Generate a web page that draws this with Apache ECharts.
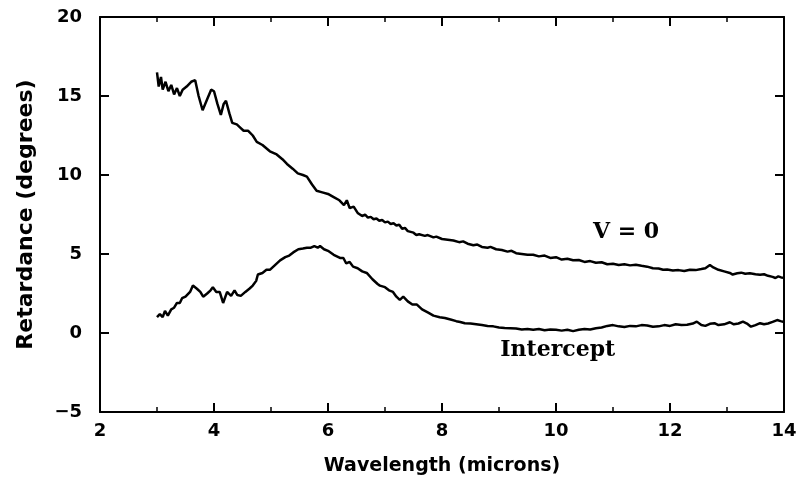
<!DOCTYPE html>
<html>
<head>
<meta charset="utf-8">
<script src="https://cdn.jsdelivr.net/npm/echarts@6/dist/echarts.min.js"></script>
<style>
  html, body { margin: 0; padding: 0; background: #fff; }
  #chart { width: 800px; height: 483px; }
</style>
</head>
<body>
<div id="chart"></div>
<script>
// Retardance vs wavelength, two measured traces
const xTicks = [2, 4, 6, 8, 10, 12, 14];
const xMinorTicks = [3, 5, 7, 9, 11, 13];
const yTicks = [-5, 0, 5, 10, 15, 20];

const v0Wavelength = [
  3.00, 3.03, 3.07, 3.10, 3.15, 3.20, 3.25, 3.30, 3.35, 3.40, 3.45, 3.52, 3.60, 3.67,
  3.73, 3.80, 3.88, 3.95, 4.00, 4.06, 4.12, 4.17, 4.21, 4.27, 4.32, 4.40, 4.46, 4.52,
  4.60, 4.68, 4.75, 4.85, 4.98, 5.10, 5.20, 5.28, 5.38, 5.47, 5.56, 5.63, 5.72, 5.80,
  5.90, 6.00, 6.10, 6.20, 6.28, 6.33, 6.38, 6.45, 6.52,
  6.60, 6.65, 6.70, 6.75, 6.80, 6.85, 6.90, 6.95, 7.00, 7.05, 7.10, 7.15, 7.20, 7.25,
  7.30, 7.35, 7.40, 7.50, 7.55, 7.60, 7.70, 7.75, 7.85, 7.90, 8.00, 8.10, 8.20, 8.30,
  8.37, 8.45, 8.55, 8.62, 8.70, 8.80, 8.85, 8.95, 9.05, 9.15, 9.22, 9.30, 9.40, 9.50,
  9.60, 9.70, 9.80, 9.90, 10.00, 10.10, 10.20, 10.30, 10.40, 10.50, 10.60, 10.70, 10.80,
  10.90, 11.00, 11.10, 11.20, 11.30, 11.40, 11.50, 11.60, 11.70, 11.80, 11.88, 11.95,
  12.05, 12.15, 12.25, 12.35, 12.45, 12.55, 12.62, 12.70, 12.76, 12.85, 12.95, 13.05,
  13.10, 13.18, 13.25, 13.32, 13.40, 13.50, 13.58, 13.65, 13.72, 13.80, 13.85, 13.90,
  13.95, 14.00
];
const v0Retardance = [
  16.5, 15.6, 16.2, 15.4, 15.9, 15.3, 15.7, 15.1, 15.5, 15.0, 15.4, 15.6, 15.9, 16.0,
  15.0, 14.1, 14.8, 15.4, 15.3, 14.5, 13.8, 14.5, 14.7, 13.9, 13.3, 13.2, 13.0, 12.8,
  12.8, 12.5, 12.1, 11.9, 11.5, 11.3, 11.0, 10.7, 10.4, 10.1, 10.0, 9.9, 9.4, 9.0,
  8.9, 8.8, 8.6, 8.4, 8.1, 8.4, 7.9, 8.0, 7.6,
  7.4, 7.5, 7.3, 7.35, 7.2, 7.25, 7.1, 7.15, 7.0, 7.05, 6.9, 6.95, 6.8, 6.85,
  6.6, 6.65, 6.45, 6.35, 6.2, 6.25, 6.15, 6.2, 6.05, 6.1, 5.95, 5.9, 5.85, 5.75,
  5.8, 5.65, 5.55, 5.6, 5.45, 5.4, 5.45, 5.3, 5.25, 5.15, 5.2, 5.05, 5.0, 4.95,
  4.95, 4.85, 4.9, 4.75, 4.8, 4.65, 4.7, 4.6, 4.62, 4.5, 4.55, 4.45, 4.48,
  4.35, 4.38, 4.3, 4.35, 4.28, 4.32, 4.25, 4.2, 4.1, 4.08, 4.0, 4.02,
  3.95, 3.98, 3.92, 4.0, 3.98, 4.05, 4.1, 4.3, 4.15, 4.0, 3.9, 3.8,
  3.7, 3.78, 3.82, 3.75, 3.78, 3.72, 3.68, 3.72, 3.62, 3.55, 3.48, 3.58,
  3.52, 3.5
];

const interceptWavelength = [
  3.00, 3.05, 3.10, 3.14, 3.19, 3.25, 3.30, 3.35, 3.40, 3.44, 3.50, 3.58, 3.63, 3.70,
  3.76, 3.81, 3.88, 3.94, 3.98, 4.04, 4.10, 4.16, 4.23, 4.30, 4.36, 4.41, 4.47, 4.55,
  4.62, 4.68, 4.74, 4.77, 4.85, 4.92, 4.98, 5.07, 5.16, 5.25, 5.32, 5.39, 5.48, 5.56,
  5.63, 5.70, 5.76, 5.82, 5.86, 5.93, 6.00, 6.10, 6.21, 6.27, 6.32, 6.38, 6.44, 6.52,
  6.60, 6.68, 6.78, 6.87, 6.91, 7.00, 7.07, 7.14, 7.20, 7.26, 7.32, 7.40, 7.48, 7.56,
  7.65, 7.75, 7.85, 7.96, 8.05, 8.15, 8.25, 8.32, 8.40, 8.50, 8.60, 8.70, 8.80, 8.90,
  9.00, 9.10, 9.20, 9.30, 9.40, 9.50, 9.60, 9.70, 9.80, 9.90, 10.00, 10.10, 10.20,
  10.30, 10.40, 10.50, 10.60, 10.70, 10.80, 10.90, 11.00, 11.10, 11.20, 11.30, 11.40,
  11.50, 11.60, 11.70, 11.80, 11.90, 12.00, 12.10, 12.20, 12.30, 12.40, 12.47, 12.55,
  12.62, 12.70, 12.78, 12.85, 12.95, 13.05, 13.12, 13.20, 13.28, 13.35, 13.42, 13.50,
  13.58, 13.65, 13.72, 13.80, 13.88, 13.94, 14.00
];
const interceptRetardance = [
  1.0, 1.2, 1.0, 1.4, 1.1, 1.5, 1.6, 1.9, 1.9, 2.2, 2.3, 2.6, 3.0, 2.8,
  2.6, 2.3, 2.5, 2.7, 2.9, 2.6, 2.6, 1.9, 2.6, 2.35, 2.7, 2.4, 2.35, 2.6,
  2.8, 3.0, 3.3, 3.7, 3.8, 4.0, 4.0, 4.3, 4.6, 4.8, 4.9, 5.1, 5.3, 5.35,
  5.4, 5.4, 5.5, 5.4, 5.5, 5.3, 5.2, 4.95, 4.75, 4.75, 4.4, 4.5, 4.2, 4.1,
  3.9, 3.8, 3.4, 3.1, 3.0, 2.9, 2.7, 2.6, 2.3, 2.1, 2.3, 2.0, 1.8, 1.8,
  1.5, 1.3, 1.1, 1.0, 0.95, 0.85, 0.75, 0.7, 0.62, 0.6, 0.55, 0.5, 0.45, 0.42,
  0.35, 0.32, 0.3, 0.28, 0.22, 0.25, 0.2, 0.25, 0.18, 0.22, 0.2, 0.15, 0.2,
  0.12, 0.2, 0.25, 0.22, 0.3, 0.35, 0.45, 0.5, 0.42, 0.38, 0.45, 0.42,
  0.5, 0.48, 0.4, 0.42, 0.5, 0.45, 0.55, 0.5, 0.52, 0.6, 0.72, 0.5,
  0.45, 0.58, 0.62, 0.5, 0.55, 0.68, 0.55, 0.6, 0.72, 0.6, 0.4, 0.5,
  0.62, 0.55, 0.6, 0.7, 0.82, 0.75, 0.7
];

// Curve annotations, anchored in data coordinates
const curveLabels = ['V = 0', 'Intercept'];
const curveLabelAnchors = [[11.23, 6.4], [10.03, -1.1]];

const pairs = (xs, ys) => xs.map((x, i) => [x, ys[i]]);

const tickFont = { fontFamily: 'DejaVu Sans', fontWeight: 'bold', fontSize: 18, color: '#000' };
const lineOf = () => ({ show: true, onZero: false, lineStyle: { color: '#000', width: 2 } });
const noTick = { show: false };

// Inward tick marks on all four sides of the frame, placed through the axes
function frameTicks(kind, major, minor) {
  return {
    type: 'custom', coordinateSystem: 'cartesian2d', xAxisIndex: 0, yAxisIndex: 0,
    clip: false, silent: true, z: 5,
    data: major.map(v => [v, 1]).concat(minor.map(v => [v, 0])),
    renderItem: (params, api) => {
      const cs = params.coordSys;
      const v = api.value(0);
      const len = api.value(1) ? 9 : 5;
      const style = { stroke: '#000', lineWidth: api.value(1) ? 2 : 1.5 };
      if (kind === 'x') {
        const px = api.coord([v, yTicks[0]])[0];
        return {
          type: 'group', children: [
            { type: 'line', shape: { x1: px, y1: cs.y + cs.height, x2: px, y2: cs.y + cs.height - len }, style },
            { type: 'line', shape: { x1: px, y1: cs.y, x2: px, y2: cs.y + len }, style }
          ]
        };
      }
      const py = api.coord([xTicks[0], v])[1];
      return {
        type: 'group', children: [
          { type: 'line', shape: { x1: cs.x, y1: py, x2: cs.x + len, y2: py }, style },
          { type: 'line', shape: { x1: cs.x + cs.width, y1: py, x2: cs.x + cs.width - len, y2: py }, style }
        ]
      };
    }
  };
}

const chart = echarts.init(document.getElementById('chart'), null, { renderer: 'canvas' });

const option = {
  animation: false,
  backgroundColor: '#fff',
  grid: { left: 100, right: 16, top: 17, bottom: 71 },
  xAxis: [
    {
      type: 'value', min: xTicks[0], max: xTicks[xTicks.length - 1], interval: 2,
      name: 'Wavelength (microns)', nameLocation: 'middle', nameGap: 45,
      nameTextStyle: { fontFamily: 'DejaVu Sans', fontWeight: 'bold', fontSize: 19, color: '#000' },
      axisLine: lineOf(),
      axisTick: noTick,
      axisLabel: Object.assign({ margin: 10 }, tickFont),
      splitLine: { show: false }
    },
    {
      type: 'value', position: 'top', min: xTicks[0], max: xTicks[xTicks.length - 1], interval: 2,
      axisLine: lineOf(),
      axisTick: noTick,
      axisLabel: { show: false },
      splitLine: { show: false }
    }
  ],
  yAxis: [
    {
      type: 'value', min: yTicks[0], max: yTicks[yTicks.length - 1], interval: 5,
      name: 'Retardance (degrees)', nameLocation: 'middle', nameGap: 63,
      nameTextStyle: { fontFamily: 'DejaVu Sans', fontWeight: 'bold', fontSize: 22, color: '#000' },
      axisLine: lineOf(),
      axisTick: noTick,
      axisLabel: Object.assign({ margin: 18, formatter: v => (v < 0 ? '\u2212' + Math.abs(v) : String(v)) }, tickFont),
      splitLine: { show: false }
    },
    {
      type: 'value', position: 'right', min: yTicks[0], max: yTicks[yTicks.length - 1], interval: 5,
      axisLine: lineOf(),
      axisTick: noTick,
      axisLabel: { show: false },
      splitLine: { show: false }
    }
  ],
  series: [
    {
      name: 'V = 0', type: 'line', xAxisIndex: 0, yAxisIndex: 0,
      data: pairs(v0Wavelength, v0Retardance),
      showSymbol: false, smooth: false,
      lineStyle: { color: '#000', width: 2.5 }
    },
    {
      name: 'Intercept', type: 'line', xAxisIndex: 0, yAxisIndex: 0,
      data: pairs(interceptWavelength, interceptRetardance),
      showSymbol: false, smooth: false,
      lineStyle: { color: '#000', width: 2.5 }
    },
    frameTicks('x', xTicks, xMinorTicks),
    frameTicks('y', yTicks, [])
  ]
};

chart.setOption(option);

// Place the curve annotations through the chart's own coordinate system
chart.setOption({
  graphic: curveLabels.map((text, i) => {
    const p = chart.convertToPixel({ xAxisIndex: 0, yAxisIndex: 0 }, curveLabelAnchors[i]);
    return {
      type: 'text', x: p[0], y: p[1],
      style: {
        text: text, fill: '#000',
        font: 'bold 22px "DejaVu Serif"',
        align: 'center', verticalAlign: 'middle'
      }
    };
  })
});
</script>
</body>
</html>
